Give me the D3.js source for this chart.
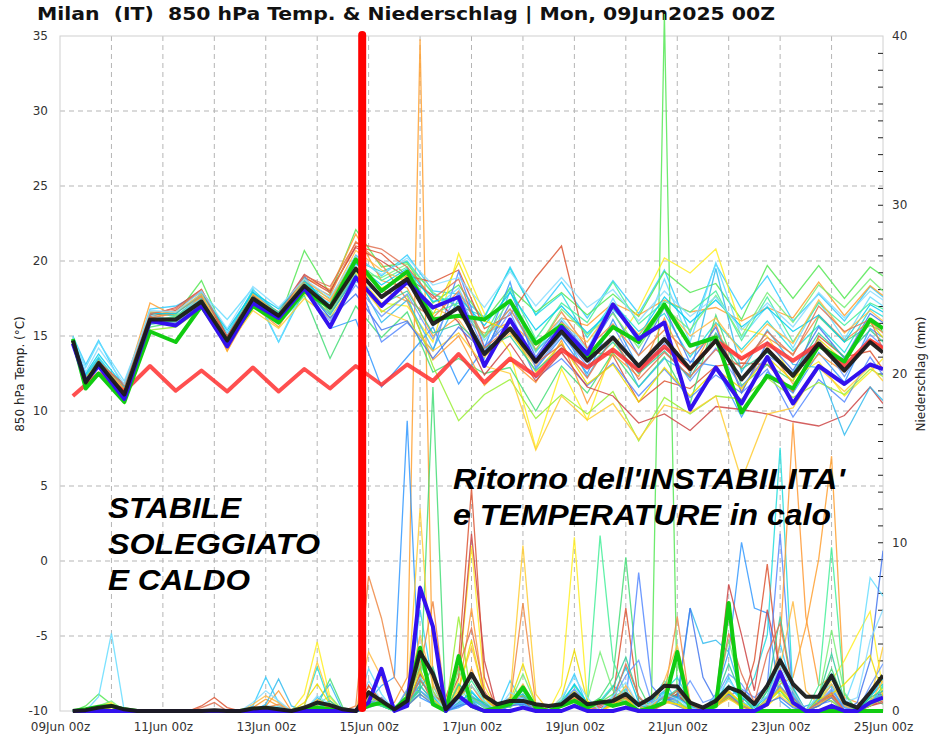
<!DOCTYPE html>
<html><head><meta charset="utf-8">
<script src="https://cdn.jsdelivr.net/npm/d3@7"></script>
<style>body{margin:0;background:#fff} svg{display:block}</style>
</head><body><svg id="c" width="935" height="739"></svg>
<script>
// ---------------- DATA ----------------
const titleText = "Milan  (IT)  850 hPa Temp. & Niederschlag | Mon, 09Jun2025 00Z";
const xTickHours = [0,48,96,144,192,240,288,336,384];
const xTickLabels = ["09Jun 00z","11Jun 00z","13Jun 00z","15Jun 00z","17Jun 00z","19Jun 00z","21Jun 00z","23Jun 00z","25Jun 00z"];
const tempTicks = [-10,-5,0,5,10,15,20,25,30,35];
const precTicks = [0,10,20,30,40];

const tTimes = [6,12,18,30,42,54,66,78,90,102,114,126,138,150,162,174,186,198,210,222,234,246,258,270,282,294,306,318,330,342,354,366,378,384];
const pTimes = [6,12,18,24,30,36,42,48,54,60,66,72,78,84,90,96,102,108,114,120,126,132,138,144,150,156,162,168,174,180,186,192,198,204,210,216,222,228,234,240,246,252,258,264,270,276,282,288,294,300,306,312,318,324,330,336,342,348,354,360,366,372,378,384];

// thick series
const meanT = [14.7,11.9,13.2,11.1,16.1,16.1,17.3,14.7,17.5,16.35,18.35,16.9,19.5,17.6,18.8,15.8,16.9,13.8,15.5,13.3,15.3,13.35,14.9,13.0,14.8,12.8,14.7,12.1,14.1,12.35,14.5,12.7,14.6,13.9];
const ctrlT = [14.5,12.0,13.0,10.8,16.0,15.7,17.0,14.3,17.2,16.2,18.2,15.6,18.9,17.0,18.6,16.9,17.6,13.0,16.1,13.3,15.6,13.8,17.1,14.8,15.9,10.1,12.9,10.5,13.6,10.5,13.0,11.8,13.1,12.8];
const operT = [14.8,11.5,12.5,10.6,15.3,14.6,17.0,14.6,17.0,15.9,18.0,16.9,20.1,18.0,19.3,16.1,16.35,16.1,17.35,14.5,15.7,13.6,15.6,14.6,17.1,14.35,14.9,9.9,12.35,11.5,14.35,13.3,16.1,15.5];
const climT = [11.0,11.75,12.5,11.3,13.0,11.35,12.7,11.3,12.9,11.3,12.8,11.5,13.0,11.75,13.1,12.0,13.8,11.9,13.5,12.35,14.1,12.9,14.1,12.7,14.3,12.8,14.7,13.5,14.5,13.35,14.5,13.0,14.7,14.2];

const meanP = [0,0.05,0.2,0.3,0.1,0,0,0,0,0,0,0.05,0,0,0.15,0.2,
 0.1,0,0.2,0.5,0.35,0.1,0,1.1,0.6,0.1,0.6,3.5,2.2,0.1,0.9,2.2,
 0.9,0.4,0.6,0.6,0.4,0.3,0.4,1.0,0.4,0.5,0.6,1.0,0.35,0.8,1.5,1.45,
 0.5,0.2,0.6,1.4,1.1,0.4,1.5,3.0,1.6,0.85,0.85,2.1,0.5,0.2,1.1,2.1];
const ctrlP = [0,0,0,0,0,0,0,0,0,0,0,0,0,0,0,0,
 0,0,0,0,0,0,0,0.5,2.5,0,0.3,7.3,5.0,0,0.9,0.3,
 0,0,0,0.2,0,0,0,0.3,0,0,0,0.2,0,0,0,0,
 0,0,0,0,0,0,0.4,2.3,0.5,0,0,0.3,0,0,0.5,0.8];
const operP = [0,0.1,0.25,0.3,0.1,0,0,0,0,0,0,0,0,0,0.1,0.15,
 0,0,0.1,0.2,0.1,0,0,0.3,0.5,0.1,0.8,3.75,0.4,0,3.25,0.3,
 0,0.2,0.4,1.4,0.2,0,0.3,0.6,0.2,0.6,0.3,0.5,0,0.2,0.5,3.5,
 0,0,0.3,6.4,0,0,0,0,0,0,0,0,0,0,0,0];

// ensemble members: temperature (tTimes) and precipitation (pTimes)
const m01T = [15.0,13.1,14.7,11.5,16.8,17.0,17.9,15.2,18.0,14.6,18.0,17.2,20.4,19.0,20.4,18.0,17.8,16.2,19.6,16.4,18.6,16.2,18.7,16.5,19.4,15.2,19.8,16.8,19.0,16.0,17.8,16.0,18.3,17.6];
const m01P = [0,0,0,0,0,0,0,0,0,0,0,0,0,0,0.3,2.0, 0.5,0,0,0.8,0.3,0,0,1.2,0.4,0,0.5,6.0,1.5,0,0.4,1.2, 0.3,0,1.8,0.5,0,0.2,0.6,2.2,0.3,0,0.8,1.3,0,0.6,1.8,0.5, 0,0,0.4,2.0,0.6,0,0.5,4.0,1.1,0,0.7,1.5,0,0,0.8,1.9];
const m02T = [14.9,12.2,13.4,10.9,16.5,16.4,18.7,14.9,17.9,16.0,20.7,17.8,22.1,19.6,19.9,17.2,18.4,16.0,18.2,16.6,17.9,16.4,17.8,16.3,19.3,17.9,18.5,16.1,19.7,17.5,19.7,17.5,19.6,19.0];
const m02P = [0,0.3,1.0,0.4,0,0,0,0,0,0,0,0,0,0,0,0.2, 0,0,0,0.3,0.2,0,0,0.6,0.3,0,1.2,2.5,0.6,0,1.5,0.4, 0,0.5,0.3,0.6,0,0,0,0.4,0,0.5,1.0,0.4,0,0.8,41.3,0.6, 0,0,0.2,0.9,0.3,0,1.2,2.4,0.6,0,0.3,0.8,0,0,0.5,1.0];
const m03T = [14.6,12.0,13.3,11.6,17.2,16.3,17.6,14.2,17.6,16.1,18.9,18.1,21.8,18.7,18.2,15.0,16.3,15.2,15.9,14.4,16.2,15.7,17.2,16.4,17.4,16.6,16.9,16.0,16.9,16.2,18.6,16.35,18.35,17.7];
const m03P = [0,0,0,0,0,0,0,0,0,0,0,0,0,0,0.2,0.7, 0.3,0,0,0.5,0.2,0,0,0.6,0.3,0.5,2.0,39.8,1.2,0,0.5,2.5, 0.6,0,0.4,1.0,0.2,0,0.3,0.8,0,0,0.4,0.7,0,0.5,0.9,0.4, 0.2,0,0.6,1.1,0.3,0,0.4,1.6,2.0,5.0,9.0,15.1,0.8,0.5,0.3,1.2];
const m04T = [14.4,11.7,13.0,10.9,15.8,16.0,17.0,14.5,17.2,16.3,18.1,15.5,16.1,11.6,13.6,15.6,11.8,14.2,18.6,12.8,14.9,12.5,16.1,12.9,14.2,13.3,13.0,9.6,12.6,11.2,13.9,11.9,15.5,14.9];
const m04P = [0,0,0,0,0,0,0,0,0,0,0,0,0,0,0,0, 0,0,0,0,0,0,0,0.6,1.5,2.0,17.2,0.8,0.4,0,0.2,0.6, 0,0.3,0.8,0.2,0,0,0.5,1.0,0.3,0,0.6,1.0,0.4,0.6,1.2,0.8, 0.3,0,1.0,3.5,10.0,6.1,5.8,0.6,0,0.3,0.5,0.9,0.2,0,0.4,0.8];
const m05T = [14.6,12.1,13.0,11.3,15.9,15.8,17.5,14.0,17.3,16.0,17.8,16.6,19.2,17.2,17.0,14.6,20.5,16.5,13.9,7.5,12.8,9.4,14.2,16.8,20.2,19.2,20.8,15.5,15.0,12.2,13.3,11.0,12.6,13.5];
const m05P = [0,0,0.3,0.5,0,0,0,0,0,0,0,0,0,0,0,0, 0,0,1.0,4.1,0.8,0,0,1.5,0.5,0,0.3,1.0,0.5,0,1.8,9.8, 1.5,0,0.4,0.8,0.2,0,1.5,10.3,0.6,0,0.3,0.7,0,0.4,0.8,0.3, 0,0,0.3,0.8,0.2,0,0.3,1.0,0.5,0,0.5,1.8,3.0,4.5,5.9,1.2];
const m06T = [14.8,12.4,13.6,11.4,16.6,16.3,17.7,15.0,18.1,16.5,18.5,17.5,20.0,19.3,20.0,17.8,17.0,16.3,19.5,16.4,17.8,14.9,17.2,15.3,16.5,13.6,15.9,14.1,16.0,14.0,15.7,13.9,16.8,16.3];
const m06P = [0,0,0,0,0,0,0,0,0,0,0,0,0,0,0,0.3, 0.2,0,0.3,2.6,0.4,0,0,0.8,0.5,0,0.8,1.5,0.6,0,0.3,0.9, 0.4,0,0.6,0.3,0,0.2,0.5,1.2,0.4,0.6,1.5,0.9,0,0.3,1.2,2.0, 0.5,0,0.8,1.5,0.6,2.0,4.5,15.6,1.0,0,0.6,1.0,0.3,0,0.4,1.5];
const m07T = [14.7,12.0,13.2,11.8,16.3,16.7,18.0,14.8,17.4,16.2,18.9,17.9,21.0,20.5,19.0,18.6,19.4,15.5,16.4,18.9,21.0,14.0,13.7,10.6,12.0,11.5,13.0,13.2,13.1,11.3,15.0,13.6,14.0,12.8];
const m07P = [0,0,0,0,0,0,0,0,0,0,0.3,0.8,0.2,0,0,0, 0,0,0,0.2,0,0,0,0.4,0.8,0,0.3,2.0,0.5,0.8,3.0,13.2, 2.0,0,0.5,0.9,0,0,0.3,0.6,0,0.4,0.8,6.1,0.6,0,0.4,0.9, 0.3,0,0.3,0.8,0.3,3.0,8.7,2.0,0.4,0,0.3,0.9,0,0,0.3,0.6];
const m08T = [14.8,12.0,13.3,10.7,15.6,15.9,17.1,14.6,17.8,15.8,17.7,13.5,17.0,14.9,16.6,12.6,13.5,12.5,12.9,10.0,13.0,11.2,13.9,11.6,13.6,10.5,16.4,11.7,13.1,12.0,16.3,14.6,15.7,15.3];
const m08P = [0,0,0,0,0,0,0,0,0,0,0,0,0,0,0,0, 0,0,0,0.3,1.9,0.2,0,0.5,0.3,0,0.4,1.0,19.2,0,0.8,0.6, 0.3,0.5,0.2,0.9,0.3,0,0.6,0.8,0.3,0.8,2.0,9.1,1.5,0,0.6,1.0, 0.4,0,0.6,1.2,0.3,0,0.8,1.2,0.3,0,0.9,2.5,0.6,0,0.8,0.4];
const m09T = [14.5,11.8,12.9,11.0,16.0,15.8,17.3,14.4,17.5,16.4,19.0,16.5,19.0,14.6,15.9,14.0,19.3,14.3,16.0,12.2,13.5,11.7,13.2,11.0,12.8,10.9,12.4,11.2,12.8,9.6,12.1,10.6,13.6,12.4];
const m09P = [0,0,0,0,0,0,0,0,0,0,0,0,0,0,0,0, 0,0,0,0,0,0,0,0.2,0.5,0,0.4,1.2,0.6,0,0.3,0.8, 0.2,0,0.3,0.5,0,0,0.6,1.0,0,0.3,0.8,0.5,8.2,1.5,0.6,0.3, 0,0.2,0.5,0.9,1.3,0.8,1.5,10.5,0.8,0,0.4,0.6,0,0,0.5,1.2];
const m10T = [14.6,11.9,13.1,11.2,16.2,16.6,17.6,14.0,17.0,15.6,18.4,17.3,20.3,18.1,17.3,13.4,15.0,11.7,13.4,11.9,14.7,10.5,13.8,12.3,16.2,12.5,15.8,11.3,14.3,11.8,13.8,12.6,14.8,14.2];
const m10P = [0,0,0,0,0,0,0,0,0,0,0,0,0,0,0,0.3, 1.2,0,0,0.6,0.3,0,0,1.0,0.6,0,0.5,3.0,0.8,0,1.0,6.1, 0.8,0,0.3,0.6,0.2,0,0.5,0.9,0,0,0.6,1.2,0.3,0,0.5,0.6, 0,0,0.4,1.0,0.4,0,0.6,4.0,17.1,5.6,1.5,2.0,0.4,0,0.3,0.9];
const m11T = [14.9,12.9,14.6,12.0,16.4,16.0,17.9,16.1,18.2,14.6,18.3,16.2,18.6,17.9,19.2,16.8,18.2,14.7,16.8,13.9,16.2,14.1,17.5,14.4,18.8,14.6,19.9,14.9,17.0,14.2,17.3,14.8,17.6,17.0];
const m11P = [0,0,0.85,4.6,0,0,0,0,0,0,0,0,0,0,0,0, 0.3,0,0,0.4,0,0,0,2.5,1.0,0,0.6,2.0,0.8,0,0.4,0.7, 0.2,0,0.5,0.4,0.3,0,0.6,1.5,0.4,0,0.8,1.2,0.4,0.2,0.9,0.5, 0.2,0,0.6,1.0,0.5,0.3,0.8,1.4,0.6,0,1.0,1.6,0.4,2.5,7.9,6.8];
const m12T = [14.7,12.1,13.4,10.5,15.4,15.6,16.8,14.3,16.9,16.0,18.2,16.8,19.4,16.6,17.7,13.0,9.35,11.1,12.1,9.5,11.1,9.8,11.3,8.0,10.9,9.8,11.0,10.8,12.2,10.9,11.9,11.1,12.8,12.3];
const m12P = [0,0,0,0,0,0,0,0,0,0,0,0,0,0,0,0, 0,0,0,0.3,0.2,0,0,0.6,0.4,0,0.3,1.5,0.6,0,5.6,0.8, 0.3,0,0.4,0.6,0,0,0.5,0.8,0.3,0,0.5,0.7,0,0.3,0.8,0.6, 0,0,0.4,0.8,0.3,0,0.5,1.2,0.5,0,0.8,0.6,0,0,0.4,0.7];
const m13T = [14.7,12.0,13.2,11.4,16.4,16.9,18.1,15.0,17.7,16.6,19.1,18.0,20.9,20.0,18.9,17.7,15.9,12.4,14.5,12.0,13.9,11.6,11.0,9.2,9.8,8.7,10.3,10.1,9.8,9.3,9.0,9.7,11.6,10.5];
const m13P = [0,0,0,0,0,0,0,0,0,0,0,0,0,0,0,0, 0,0,0,0,0,0,0,1.5,0.6,0,0.4,2.2,1.0,0.3,2.0,10.5, 3.0,0,0.4,0.6,0,0,0.3,0.8,0,0.2,0.5,0.8,0.3,0,0.6,1.0, 0.2,0,0.6,7.5,4.5,1.2,6.0,2.5,0.8,0,0.4,1.0,0,0,0.3,0.5];
const m14T = [14.6,12.3,13.5,11.2,16.0,16.2,17.5,14.6,17.9,16.5,18.9,16.7,19.1,15.9,17.4,14.1,17.5,13.5,18.0,14.0,15.6,12.3,15.0,11.6,13.5,12.4,19.5,12.6,15.4,13.1,12.9,8.4,11.6,10.7];
const m14P = [0,0,0,0,0,0,0,0,0,0,0,0,0,0,0,0.4, 1.9,0.3,0,0.6,1.6,0,0,0.8,0.3,0,0.5,1.5,0.6,0,0.3,0.7, 0.2,0,0.4,0.5,0,0,0.4,1.0,0.2,0,0.6,1.0,0,0.3,0.8,0.4, 6.1,4.0,4.2,3.5,1.0,0,0.5,1.5,0.6,0,0.4,1.2,0.3,0,0.6,1.0];
const m15T = [14.7,12.0,13.1,11.3,16.0,15.9,17.1,14.3,16.7,15.5,17.5,16.2,18.8,16.7,16.0,14.0,15.2,13.0,12.5,7.4,11.0,9.4,10.5,8.1,10.4,9.9,11.0,5.4,9.8,10.2,12.9,11.3,13.0,12.0];
const m15P = [0,0,0,0.2,0,0,0,0,0,0,0,0,0,0,0,0, 0,0,0.3,2.9,0.6,0,0,0.8,0.4,0,0.6,12.0,1.0,0,0.8,1.5, 0.5,0,0.8,9.8,1.0,0,0.5,1.2,0.3,0,0.8,0.7,0,0.3,0.5,0.4, 0,0,0.3,0.7,0.3,0,0.4,0.9,0.3,0,0.4,0.8,0,0,0.6,3.8];
const m16T = [14.8,12.2,13.3,11.0,16.1,16.2,17.4,14.8,17.6,16.6,18.6,17.0,19.9,18.7,19.6,16.5,17.2,15.0,18.2,14.8,17.2,15.9,18.6,15.8,17.3,16.6,18.0,14.7,17.6,14.6,17.2,15.7,17.2,16.8];
const m16P = [0,0,0,0,0,0,0,0,0,0,0,0,0,0,0,0, 0,0,0,0.5,0.4,0,0,0.6,0.3,0,0.5,1.2,0.5,0,0.7,1.8, 0.6,0,0.3,0.8,0.2,0,0.6,1.5,0.5,10.4,3.0,1.0,0.3,0,0.6,1.2, 0.3,0,0.5,1.0,0.4,0,0.6,2.0,1.2,0,1.5,9.7,1.0,0,0.6,1.4];
const m17T = [14.5,11.8,13.0,11.0,15.9,16.0,17.2,14.5,17.4,16.1,18.3,16.2,17.8,15.4,16.0,13.5,15.6,13.9,17.2,13.6,16.0,13.9,16.6,13.7,16.9,13.2,15.6,11.2,14.6,12.7,15.6,13.5,16.5,15.9];
const m17P = [0,0,0,0,0,0,0,0,0,0,0,0,0,0,0,0, 0,0,0,0,0,0,0,0.3,0.6,0,0.3,1.0,0.4,0,0.3,0.5, 0,0,0.3,0.4,0,0,0.4,0.6,0,0,0.5,0.8,0.3,0,0.6,0.8, 6.1,2.0,0.6,1.0,0.3,0,0.5,0.8,0.2,0,0.3,0.8,0,0.5,3.0,9.5];
const m18T = [14.7,12.0,13.2,11.5,16.2,16.5,17.7,14.7,17.6,16.3,18.6,17.7,21.3,19.8,17.4,16.2,18.0,14.9,16.8,14.1,16.6,14.2,15.8,13.7,15.4,13.8,15.1,13.4,14.9,13.8,16.4,14.7,16.0,15.2];
const m18P = [0,0,0,0,0,0,0,0,0,0,0,0,0,0,0,0.2, 0.4,0,0,0.5,0.2,0,0.3,8.0,5.5,2.0,0.8,2.5,6.5,0.3,0.9,1.5, 0.4,0,0.5,6.4,0.4,0,0.3,1.0,0.2,0,0.4,0.8,0,0.3,0.9,5.6, 0.4,0,0.4,0.9,0.3,0,0.5,1.4,0.6,0,0.5,0.9,0,0,0.3,0.8];
const m19T = [14.8,12.5,13.8,11.6,16.5,16.5,17.8,15.4,17.9,16.8,18.7,17.0,19.8,18.4,19.5,17.3,17.6,15.7,17.9,15.4,17.0,15.2,16.8,15.0,17.6,15.9,17.4,15.6,16.9,15.3,16.4,14.6,17.1,16.6];
const m19P = [0,0,0,0,0,0,0,0,0,0,0,0,0,0,0,0, 0,0,0.2,0.5,0,0,0,0.9,0.4,0,0.6,1.8,0.9,0,0.5,1.1, 0.4,0,0.7,1.0,0.3,0,0.4,1.6,0.5,0,0.9,2.6,0.5,0,1.1,0.8, 0.3,0,0.6,1.4,0.8,0.2,0.9,3.2,1.4,0,0.6,2.2,0.5,0,0.9,1.6];
const m20T = [14.6,12.0,13.1,11.0,16.0,16.3,17.3,14.5,17.4,16.2,18.4,16.6,19.3,18.9,19.8,17.9,16.9,14.9,17.4,14.0,16.8,15.1,16.5,14.2,16.9,15.4,17.7,15.0,17.9,15.9,18.4,16.9,18.8,18.0];
const m20P = [0,0,0.3,0.6,0,0,0,0,0,0,0,0,0,0,0,0, 0,0,0,0.4,0.9,0,0,0.4,0.3,0,0.4,2.8,1.2,0,2.4,0.9, 0.2,0,0.5,2.2,0.4,0,0.3,0.9,0.6,3.5,1.2,0.5,0,0.4,1.6,2.8, 0.6,0,0.9,4.2,1.2,0,0.6,1.8,0.7,0,0.8,4.8,1.1,0,0.3,0.9];
const m21T = [14.7,12.1,13.3,11.4,16.6,16.6,17.8,14.6,17.8,16.4,18.8,17.4,20.7,19.4,18.6,16.9,16.1,13.6,15.2,13.0,15.9,14.6,16.9,15.1,17.0,15.0,16.2,13.9,15.8,14.5,17.4,15.2,16.7,16.0];
const m21P = [0,0,0,0,0,0,0,0,0,0,0,0,0,0,0.4,0.9, 0.5,0,0,0.7,0.3,0,0,3.5,2.0,0,0.8,4.5,1.6,0,1.4,3.8, 0.9,0,0.5,1.6,0.3,0,0.4,0.8,0.2,0,0.5,1.5,0.3,0,1.8,3.9, 0.6,0,0.4,1.2,0.5,0,0.7,2.6,6.5,1.2,0.4,1.6,0.3,0,0.5,1.8];
const m22T = [14.5,11.8,13.0,10.9,15.9,15.9,17.0,14.4,17.3,16.2,18.0,16.0,18.4,16.3,17.8,14.8,17.9,14.0,16.6,12.9,15.1,13.0,15.7,12.6,14.5,12.0,14.2,11.6,13.7,12.6,14.8,12.3,15.1,14.3];
const m22P = [0,0,0,0,0,0,0,0,0,0,0,0,0,0,0,0, 0,0,0,0,0,0,0,0.4,0.8,0,1.3,1.2,0.5,0,0.4,0.9, 0.3,0,0.6,0.8,0,0,0.5,1.3,0.4,0,0.7,2.1,3.0,0.5,0.9,0.6, 1.8,0.5,0.8,2.2,1.6,0.4,0.8,2.4,0.9,0,0.5,1.3,0.2,0,1.5,2.8];
const m23T = [14.7,12.2,13.2,11.2,16.1,16.0,17.4,14.5,17.4,16.3,18.3,16.8,19.5,18.2,19.0,16.4,19.9,16.0,15.4,12.6,14.5,11.8,13.1,10.6,12.9,11.0,12.8,11.5,13.6,12.0,14.8,13.3,15.9,14.9];
const m23P = [0,0,0.2,0.4,0,0,0,0,0,0,0,0,0,0,0,0, 0,0,0.5,1.6,0.4,0,0,0.9,0.5,0,0.3,2.4,0.7,0,1.2,4.2, 0.8,0,0.6,2.8,0.4,0,0.8,3.6,0.6,0,0.4,0.9,0,0.2,0.6,0.4, 0,0,0.4,1.1,0.5,0,0.5,1.3,0.4,0,0.7,1.0,1.6,2.4,3.3,0.9];
const m24T = [14.8,12.0,13.2,10.8,15.8,16.0,17.2,14.7,17.6,16.0,18.2,16.4,19.0,17.1,18.0,15.2,15.8,14.2,15.0,12.7,14.2,12.9,14.6,12.5,14.0,12.2,15.2,12.8,13.9,12.5,15.2,13.6,15.4,14.6];
const m24P = [0,0,0,0,0,0,0,0,0,0,0,0,0,0,0,0, 0,0,0,0.2,0.6,0,0,0.6,0.3,0,0.5,1.3,2.6,0,1.6,0.8, 0.5,0,0.4,1.2,0.3,0,0.5,0.9,0.4,0.5,1.4,3.2,0.8,0,0.7,1.3, 0.5,0,0.7,2.8,0.9,0,1.2,5.6,1.3,0,0.8,3.4,0.6,0,0.8,1.2];
const m25T = [14.7,12.0,13.3,11.7,16.5,16.8,18.1,14.9,17.5,16.4,19.0,18.3,21.2,20.8,19.6,17.5,18.8,14.2,15.6,13.2,14.4,12.2,14.9,12.1,13.9,12.3,14.1,12.9,15.3,13.7,17.0,15.3,16.1,14.1];
const m25P = [0,0,0,0,0,0,0,0,0,0,0.2,0.5,0,0,0,0, 0,0,0,0.3,0,0,0,1.2,0.7,0,0.4,1.8,0.9,0.5,2.6,4.9, 1.2,0,0.5,1.3,0,0,0.4,0.9,0,0.3,0.6,2.8,0.9,0,0.6,1.2, 0.4,0,0.5,4.6,2.2,0.5,3.4,5.2,1.2,0,0.5,1.1,0,0,0.4,0.9];
const m26T = [14.9,12.6,14.2,11.8,16.7,16.6,18.0,15.5,18.3,16.9,18.8,17.6,20.3,19.1,20.2,18.4,18.9,16.9,19.3,17.0,18.9,16.9,18.1,16.0,18.0,16.3,17.6,15.4,17.2,15.6,17.9,16.2,18.0,17.4];
const m26P = [0,0,0,0,0,0,0,0,0,0,0,0,0,0,0.5,1.2, 0.6,0,0,0.9,0.4,0,0,1.8,0.6,0,0.9,3.2,1.0,0,0.6,1.5, 0.6,0,1.1,0.7,0.2,0,0.8,2.0,0.8,0,0.9,1.7,0.3,0.4,1.0,0.7, 0.2,0,0.9,1.8,0.9,0.3,0.9,2.7,1.2,0,0.9,1.9,0.5,0.8,4.2,6.0];

const memberColors = ["#33ccff","#55e855","#ffa030","#3399ff","#ffee22","#22dddd","#dd5533","#44dd77","#5588ff","#ff9933","#66ddff","#99ee33","#cc4444","#33bbee","#ffcc33","#44ee99","#4477ee","#ee8844","#00ccee","#77ee77","#ffbb44","#6699ff","#eedd00","#33cc99","#e07050","#88ddff"];
const memberT = [m01T,m02T,m03T,m04T,m05T,m06T,m07T,m08T,m09T,m10T,m11T,m12T,m13T,m14T,m15T,m16T,m17T,m18T,m19T,m20T,m21T,m22T,m23T,m24T,m25T,m26T];
const memberP = [m01P,m02P,m03P,m04P,m05P,m06P,m07P,m08P,m09P,m10P,m11P,m12P,m13P,m14P,m15P,m16P,m17P,m18P,m19P,m20P,m21P,m22P,m23P,m24P,m25P,m26P];

const leftNote = ["STABILE","SOLEGGIATO","E CALDO"];
const rightNote = ["Ritorno dell'INSTABILITA'","e TEMPERATURE in calo"];
const runHour = 141; // time of the red marker (hours after 09Jun 00z)

// ---------------- DRAW ----------------
const L=60, R=883, T=36, B=711;
const svg = d3.select("#c");
svg.append("rect").attr("width",935).attr("height",739).attr("fill","#fff");

const x = d3.scaleLinear().domain([0,384]).range([L,R]);
const yT = d3.scaleLinear().domain([-10,35]).range([B,T]);
const yP = d3.scaleLinear().domain([0,40]).range([B,T]);

// title
svg.append("text").attr("x",37).attr("y",20)
  .attr("font-family","'DejaVu Sans Condensed','DejaVu Sans',sans-serif")
  .attr("font-weight","bold").attr("font-size",18).attr("fill","#111")
  .attr("textLength",738).attr("lengthAdjust","spacingAndGlyphs")
  .style("white-space","pre").text(titleText);

// grid
const grid = svg.append("g");
grid.selectAll("line.h").data(tempTicks.filter(v=>v>-10 && v<35)).enter().append("line")
  .attr("x1",L).attr("x2",R).attr("y1",d=>yT(d)).attr("y2",d=>yT(d))
  .attr("stroke","#b5b5b5").attr("stroke-dasharray","5,4").attr("stroke-width",1);
grid.selectAll("line.v").data(d3.range(24,384,24)).enter().append("line")
  .attr("y1",T).attr("y2",B).attr("x1",d=>x(d)).attr("x2",d=>x(d))
  .attr("stroke","#b5b5b5").attr("stroke-dasharray","5,4").attr("stroke-width",1);
svg.append("rect").attr("x",L).attr("y",T).attr("width",R-L).attr("height",B-T)
  .attr("fill","none").attr("stroke","#d0d0d0");

// axes
const axFont = "'DejaVu Sans',sans-serif";
const plain = d => String(d);
const gl = svg.append("g").attr("transform",`translate(${L},0)`)
  .call(d3.axisLeft(yT).tickValues(tempTicks).tickSize(0).tickPadding(12).tickFormat(plain));
const gr = svg.append("g").attr("transform",`translate(${R},0)`)
  .call(d3.axisRight(yP).tickValues(precTicks).tickSize(0).tickPadding(9).tickFormat(plain));
const gm = svg.append("g").attr("transform",`translate(${R},0)`)
  .call(d3.axisLeft(yP).tickValues(d3.range(1,40)).tickSize(5).tickFormat(""));
const gb = svg.append("g").attr("transform",`translate(0,${B})`)
  .call(d3.axisBottom(x).tickValues(xTickHours).tickSize(0).tickPadding(11).tickFormat((d,i)=>xTickLabels[i]));
[gl,gr,gm,gb].forEach(g=>{ g.select(".domain").remove();
  g.selectAll("text").attr("font-family",axFont).attr("font-size",12).attr("fill","#333"); });
gm.selectAll("line").attr("stroke","#222");

svg.append("text").attr("transform","translate(24,374) rotate(-90)").attr("text-anchor","middle")
  .attr("font-family",axFont).attr("font-size",12).attr("fill","#222").text("850 hPa Temp. (°C)");
svg.append("text").attr("transform","translate(925,374) rotate(-90)").attr("text-anchor","middle")
  .attr("font-family",axFont).attr("font-size",12).attr("fill","#222").text("Niederschlag (mm)");

// clip
svg.append("clipPath").attr("id","clip").append("rect").attr("x",L).attr("y",0).attr("width",R-L).attr("height",B+3);
const plot = svg.append("g").attr("clip-path","url(#clip)");

const lineT = times => d3.line().x((d,i)=>x(times[i])).y(d=>yT(d));
const lineP = times => d3.line().x((d,i)=>x(times[i])).y(d=>yP(d));

// members
memberP.forEach((arr,k)=>{
  plot.append("path").datum(arr).attr("d",lineP(pTimes)).attr("fill","none")
    .attr("stroke",memberColors[k]).attr("stroke-width",1.3).attr("stroke-opacity",0.85);
});
memberT.forEach((arr,k)=>{
  plot.append("path").datum(arr).attr("d",lineT(tTimes)).attr("fill","none")
    .attr("stroke",memberColors[k]).attr("stroke-width",1.3).attr("stroke-opacity",0.85);
});

// thick lines
const thick = (data,times,fn,color,w,op)=>plot.append("path").datum(data).attr("d",fn(times))
  .attr("fill","none").attr("stroke",color).attr("stroke-width",w).attr("stroke-opacity",op)
  .attr("stroke-linejoin","round");
thick(climT,tTimes,lineT,"#ff3030",4,0.85);
thick(operP,pTimes,lineP,"#11cc11",4,1);
thick(ctrlP,pTimes,lineP,"#3311ee",4,1);
thick(meanP,pTimes,lineP,"#1a1a1a",4,0.95);
thick(operT,tTimes,lineT,"#11cc11",4,1);
thick(ctrlT,tTimes,lineT,"#3311ee",4,1);
thick(meanT,tTimes,lineT,"#1a1a1a",4,0.95);

// red marker
const defs = svg.append("defs");
defs.append("filter").attr("id","blur").append("feGaussianBlur").attr("stdDeviation",1.2);
svg.append("line").attr("x1",x(runHour)+3).attr("x2",x(runHour)+3).attr("y1",T+1).attr("y2",B+1)
  .attr("stroke","#333").attr("stroke-width",5).attr("stroke-linecap","round").attr("filter","url(#blur)").attr("opacity",0.7);
svg.append("line").attr("x1",x(runHour)).attr("x2",x(runHour)).attr("y1",T-1).attr("y2",B-3)
  .attr("stroke","#ff0000").attr("stroke-width",8).attr("stroke-linecap","round");

// annotations
const noteFont = "'Liberation Sans',Arial,sans-serif";
const leftW = [133,212,142];
leftNote.forEach((s,i)=>svg.append("text").attr("x",108).attr("y",518+i*36)
  .attr("font-family",noteFont).attr("font-style","italic").attr("font-weight","bold")
  .attr("font-size",30).attr("fill","#000").attr("textLength",leftW[i]).attr("lengthAdjust","spacingAndGlyphs").text(s));
const rightW = [392,378];
rightNote.forEach((s,i)=>svg.append("text").attr("x",453).attr("y",489+i*36)
  .attr("font-family",noteFont).attr("font-style","italic").attr("font-weight","bold")
  .attr("font-size",30).attr("fill","#000").attr("textLength",rightW[i]).attr("lengthAdjust","spacingAndGlyphs").text(s));
</script></body></html>
